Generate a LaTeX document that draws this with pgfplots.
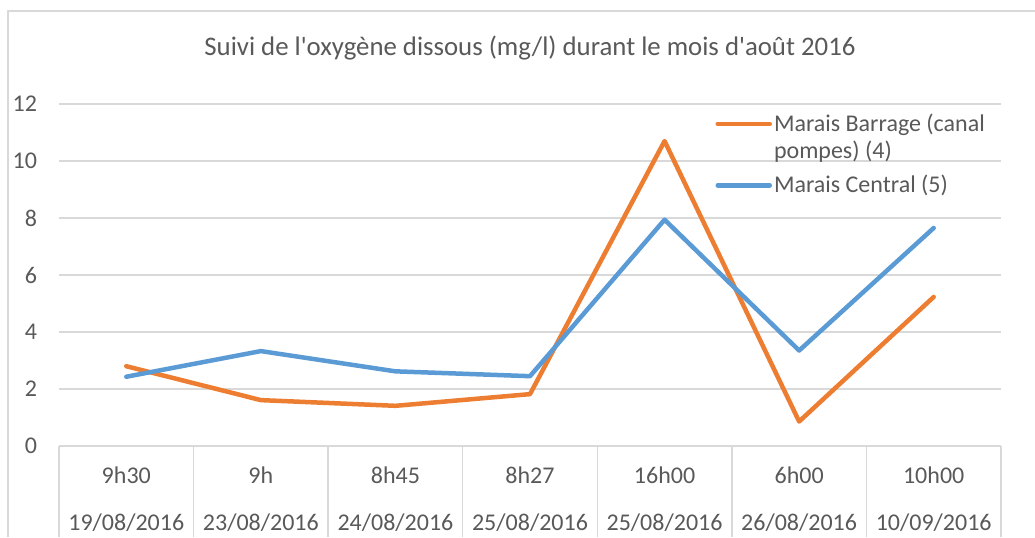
\documentclass[border=0pt]{standalone}
\usepackage{fontspec}
\setmainfont{Carlito}[Ligatures=TeXOff]
\usepackage{pgfplots}
\pgfplotsset{compat=1.18}
\definecolor{txt}{HTML}{595959}
\definecolor{gridc}{HTML}{D9D9D9}
\definecolor{orng}{HTML}{ED7D31}
\definecolor{blu}{HTML}{5B9BD5}
\pgfplotsset{
  uplegend/.style={legend image code/.code={\draw[##1, line width=2.25pt, line cap=round] (0pt,6.75pt) -- (26pt,6.75pt);}},
  midlegend/.style={legend image code/.code={\draw[##1, line width=2.25pt, line cap=round] (0pt,0pt) -- (26pt,0pt);}},
}
\begin{document}
\begin{tikzpicture}
\path[use as bounding box] (0,0) rectangle (517.5pt,268.5pt);
\draw[gridc, line width=0.6pt] (4pt,0) -- (4pt,263pt) -- (517.5pt,263pt);
\begin{axis}[
  at={(29.5pt,45.5pt)}, anchor=south west,
  scale only axis, width=471pt, height=171pt,
  xmin=-0.5, xmax=6.5, ymin=0, ymax=12,
  ytick={0,2,...,12},
  xtick={0,...,6},
  xticklabels={{9h30\\19/08/2016},{9h\\23/08/2016},{8h45\\24/08/2016},{8h27\\25/08/2016},{16h00\\25/08/2016},{6h00\\26/08/2016},{10h00\\10/09/2016}},
  axis line style={draw=none},
  major tick style={draw=none},
  ymajorgrids, grid style={gridc, line width=0.7pt},
  tick label style={font=\fontsize{12}{23.5}\selectfont, text=txt},
  /pgf/number format/assume math mode=true,
  yticklabel style={anchor=east, xshift=-7.5pt},
  xticklabel style={align=center, anchor=north, yshift=-7pt},
  clip=false,
  title={Suivi de l'oxygène dissous (mg/l) durant le mois d'août 2016},
  title style={font=\fontsize{13.4}{16}\selectfont, text=txt, at={(0.5,1)}, anchor=base, yshift=18.5pt},
  legend style={at={(0.6965,0.985)}, anchor=north west, draw=none, fill=none, inner sep=0pt,
    font=\fontsize{12}{13.5}\selectfont, text=txt, row sep=3pt,
    nodes={align=left, inner xsep=1pt}},
  legend cell align=left,
]
\addplot[orng, line width=2.25pt, line cap=round, line join=round, uplegend] coordinates {
  (0,2.80) (1,1.61) (2,1.41) (3,1.82) (4,10.70) (5,0.86) (6,5.23)};
\addlegendentry{Marais Barrage (canal\\pompes) (4)}
\addplot[blu, line width=2.25pt, line cap=round, line join=round, midlegend] coordinates {
  (0,2.43) (1,3.33) (2,2.62) (3,2.45) (4,7.94) (5,3.35) (6,7.65)};
\addlegendentry{Marais Central (5)}
\pgfplotsinvokeforeach{-0.5,0.5,1.5,2.5,3.5,4.5,5.5,6.5}{
  \draw[gridc, line width=0.7pt] (axis cs:#1,0) -- ([yshift=-45.5pt]axis cs:#1,0);
}
\end{axis}
\end{tikzpicture}
\end{document}
